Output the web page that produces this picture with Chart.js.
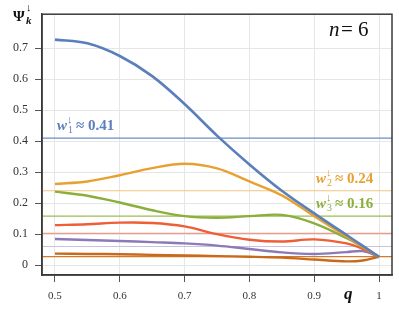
<!DOCTYPE html>
<html>
<head>
<meta charset="utf-8">
<script src="https://cdn.jsdelivr.net/npm/chart.js@4"></script>
<style>
html, body { margin: 0; padding: 0; background: #fff; }
</style>
</head>
<body>
<canvas id="myChart" width="399" height="322"></canvas>
<script>
// q grid the curves were read on
let qValues = [0.5, 0.55, 0.6, 0.65, 0.7, 0.75, 0.8, 0.85, 0.9, 0.95, 0.975, 1.0];

// psi_k (down) for k = 1..6
let psi1 = [0.728, 0.716, 0.675, 0.610, 0.520, 0.418, 0.325, 0.240, 0.167, 0.097, 0.062, 0.027];
let psi2 = [0.262, 0.270, 0.290, 0.313, 0.327, 0.312, 0.270, 0.225, 0.158, 0.092, 0.059, 0.027];
let psi3 = [0.237, 0.224, 0.202, 0.177, 0.158, 0.153, 0.158, 0.162, 0.135, 0.087, 0.058, 0.027];
let psi4 = [0.129, 0.132, 0.137, 0.136, 0.125, 0.100, 0.082, 0.076, 0.083, 0.070, 0.052, 0.027];
let psi5 = [0.084, 0.081, 0.078, 0.074, 0.070, 0.063, 0.052, 0.041, 0.036, 0.042, 0.045, 0.027];
let psi6 = [0.037, 0.036, 0.035, 0.033, 0.031, 0.029, 0.027, 0.024, 0.018, 0.012, 0.015, 0.027];

// weights w_k (horizontal lines)
let weights = [0.41, 0.24, 0.158, 0.1025, 0.060, 0.0275];

let xTicks = [0.5, 0.6, 0.7, 0.8, 0.9, 1];
let xTickLabels = ["0.5", "0.6", "0.7", "0.8", "0.9", "1"];
let yTicks = [0, 0.1, 0.2, 0.3, 0.4, 0.5, 0.6, 0.7];
let yTickLabels = ["0", "0.1", "0.2", "0.3", "0.4", "0.5", "0.6", "0.7"];

let xMin = 0.48, xMax = 1.02, yMin = -0.032, yMax = 0.81;

let curveColors = ["#5b7fbb", "#e8a030", "#8bae3c", "#ee5e37", "#8c79b8", "#c8691b"];
let lineColors  = ["#6d8dc6", "#f2c47e", "#9cbc50", "#f29a88", "#c9c2e0", "#d07a2c"];

let serif = '"Liberation Serif", "DejaVu Serif", serif';

function pts(arr) {
  return qValues.map((q, i) => ({x: q, y: arr[i]}));
}

let curves = [psi1, psi2, psi3, psi4, psi5, psi6];
let datasets = [];

for (let i = 0; i < curves.length; i++) {
  datasets.push({
    data: pts(curves[i]),
    borderColor: curveColors[i],
    borderWidth: i === 0 ? 2.6 : 2.4,
    pointRadius: 0,
    tension: 0.35,
    order: 1
  });
}
for (let i = 0; i < weights.length; i++) {
  datasets.push({
    data: [{x: xMin, y: weights[i]}, {x: xMax, y: weights[i]}],
    borderColor: lineColors[i],
    borderWidth: 1.2,
    pointRadius: 0,
    order: 5
  });
}

// little helper for the w_k ~ value labels
function drawW(ctx, x, y, sub, val, color) {
  ctx.fillStyle = color;
  ctx.textAlign = "left";
  ctx.textBaseline = "alphabetic";
  ctx.font = "italic bold 15px " + serif;
  ctx.fillText("w", x, y);
  let ww = ctx.measureText("w").width;
  ctx.font = "bold 11px " + serif;
  ctx.fillText("\u2193", x + ww, y - 7);
  ctx.font = "10px " + serif;
  ctx.fillText(sub, x + ww + 1, y + 3);
  ctx.font = "bold 15px " + serif;
  ctx.fillText("\u2248 " + val, x + ww + 9, y);
}

let extras = {
  id: "extras",
  afterDraw(chart) {
    let ctx = chart.ctx;
    let a = chart.chartArea;
    ctx.save();
    // frame
    ctx.strokeStyle = "#3a3a3a";
    ctx.lineWidth = 1.5;
    ctx.strokeRect(a.left, a.top, a.right - a.left, a.bottom - a.top);

    drawW(ctx, 57, 130, "1", "0.41", curveColors[0]);
    drawW(ctx, 316, 183, "2", "0.24", curveColors[1]);
    drawW(ctx, 316, 208, "3", "0.16", curveColors[2]);

    // n=6
    ctx.fillStyle = "#111";
    ctx.font = "italic 21px " + serif;
    ctx.fillText("n", 329, 36);
    ctx.font = "21px " + serif;
    ctx.fillText("=", 341, 36);
    ctx.fillText("6", 358, 36);

    // axis labels
    ctx.font = "bold 15px " + serif;
    ctx.fillText("\u03A8", 13, 21);
    ctx.font = "bold 11px " + serif;
    ctx.fillText("\u2193", 26, 11);
    ctx.font = "italic bold 11px " + serif;
    ctx.fillText("k", 26, 24);

    ctx.font = "italic bold 17px " + serif;
    ctx.fillText("q", 344, 299);
    ctx.restore();
  }
};

new Chart("myChart", {
  type: "line",
  data: { datasets: datasets },
  options: {
    responsive: false,
    animation: false,
    layout: { padding: { left: 0, top: 10, right: 7, bottom: 0 } },
    plugins: {
      legend: { display: false },
      tooltip: { enabled: false }
    },
    scales: {
      x: {
        type: "linear",
        min: xMin,
        max: xMax,
        afterFit(s) { s.height = 47; },
        afterBuildTicks(s) { s.ticks = xTicks.map(v => ({value: v})); },
        grid: { color: "#e6e6e6", tickColor: "#555", tickLength: 7, lineWidth: 1 },
        border: { color: "#3a3a3a", width: 1.5 },
        ticks: {
          padding: 8,
          color: "#333",
          font: { family: serif, size: 11 },
          callback: (v) => xTickLabels[xTicks.indexOf(v)]
        }
      },
      y: {
        min: yMin,
        max: yMax,
        afterFit(s) { s.width = 42; },
        afterBuildTicks(s) { s.ticks = yTicks.map(v => ({value: v})); },
        grid: { color: "#e6e6e6", tickColor: "#555", tickLength: 7, lineWidth: 1 },
        border: { color: "#3a3a3a", width: 1.5 },
        ticks: {
          padding: 7,
          color: "#333",
          font: { family: serif, size: 12 },
          callback: (v) => yTickLabels[yTicks.indexOf(v)]
        }
      }
    }
  },
  plugins: [extras]
});
</script>
</body>
</html>
